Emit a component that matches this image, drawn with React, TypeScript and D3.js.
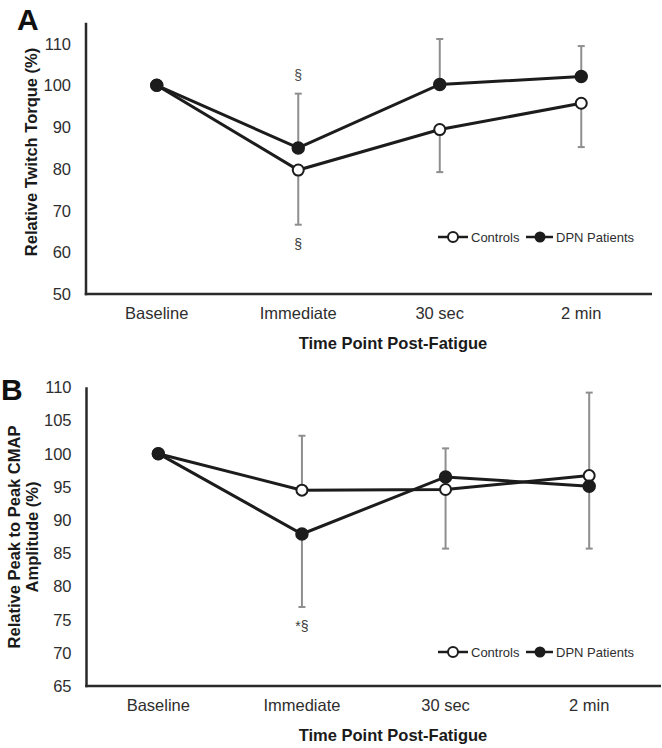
import React from "react";
import * as d3 from "d3";

// ---------- data ----------
const categories = ["Baseline", "Immediate", "30 sec", "2 min"];

// Panel A: Relative twitch torque (%)
const torqueTicks = [50, 60, 70, 80, 90, 100, 110];
const torqueControls = [100, 79.7, 89.4, 95.7];
const torqueDPN = [100, 85.0, 100.2, 102.1];
const torqueControlsErrPlus = [0, 0, 0, 0];
const torqueControlsErrMinus = [0, 13.1, 10.2, 10.5];
const torqueDPNErrPlus = [0, 13.0, 10.9, 7.3];
const torqueDPNErrMinus = [0, 0, 0, 0];
const torqueMarksAbove = ["", "§", "", ""];
const torqueMarksBelow = ["", "§", "", ""];

// Panel B: Relative peak-to-peak CMAP amplitude (%)
const ampTicks = [65, 70, 75, 80, 85, 90, 95, 100, 105, 110];
const ampControls = [100, 94.5, 94.6, 96.7];
const ampDPN = [100, 87.9, 96.5, 95.1];
const ampControlsErrPlus = [0, 8.2, 0, 12.5];
const ampControlsErrMinus = [0, 0, 8.9, 0];
const ampDPNErrPlus = [0, 0, 4.3, 0];
const ampDPNErrMinus = [0, 11.0, 0, 9.4];
const ampMarksBelow = ["", "*§", "", ""];

const seriesNames = ["Controls", "DPN Patients"];

// ---------- styles ----------
const FONT = "'Liberation Sans', Arial, Helvetica, sans-serif";
const INK = "#1c1c1c";
const AXIS = "#2a2a2a";
const TEXT = "#2e2e2e";
const ERR = "#8e8e8e";

type PanelProps = {
  letter: string;
  yTitle: string[];
  ticks: number[];
  domain: [number, number];
  yRange: [number, number];
  xRange: [number, number];
  controls: number[];
  dpn: number[];
  cPlus: number[];
  cMinus: number[];
  dPlus: number[];
  dMinus: number[];
  above?: string[];
  below?: string[];
  aboveGap: number;
  belowGap: number;
  legendY: number;
  letterY: number;
  letterX: number;
  yTitleY: number;
  yTitleX: number;
};

function Panel(p: PanelProps) {
  const x = d3.scalePoint<string>().domain(categories).range(p.xRange).padding(0.5);
  const y = d3.scaleLinear().domain(p.domain).range(p.yRange);
  const [x0, x1] = p.xRange;
  const [yBottom, yTop] = p.yRange;
  const line = d3
    .line<number>()
    .x((_, i) => x(categories[i]) as number)
    .y((v) => y(v));

  const errBars = (vals: number[], plus: number[], minus: number[], key: string) =>
    vals.map((v, i) => {
      const cx = x(categories[i]) as number;
      const out: React.ReactNode[] = [];
      if (plus[i] > 0) {
        const yt = y(v + plus[i]);
        out.push(
          <g key={key + "p" + i}>
            <line x1={cx} x2={cx} y1={y(v)} y2={yt} stroke={ERR} strokeWidth={2} />
            <line x1={cx - 3.5} x2={cx + 3.5} y1={yt} y2={yt} stroke={ERR} strokeWidth={2} />
          </g>
        );
      }
      if (minus[i] > 0) {
        const yb = y(v - minus[i]);
        out.push(
          <g key={key + "m" + i}>
            <line x1={cx} x2={cx} y1={y(v)} y2={yb} stroke={ERR} strokeWidth={2} />
            <line x1={cx - 3.5} x2={cx + 3.5} y1={yb} y2={yb} stroke={ERR} strokeWidth={2} />
          </g>
        );
      }
      return out;
    });

  const midTitle = 393;

  return (
    <g>
      <text x={p.letterX} y={p.letterY} fontFamily={FONT} fontWeight="bold" fontSize={30} fill="#111">
        {p.letter}
      </text>
      {/* y axis title */}
      {p.yTitle.map((t, i) => {
        const n = p.yTitle.length;
        const cx = p.yTitleX + (i - (n - 1) / 2) * 18;
        return (
          <text
            key={t}
            transform={`translate(${cx},${p.yTitleY}) rotate(-90)`}
            textAnchor="middle"
            dominantBaseline="central"
            fontFamily={FONT}
            fontWeight="bold"
            fontSize={16.5}
            fill="#1a1a1a"
          >
            {t}
          </text>
        );
      })}
      {/* tick labels */}
      {p.ticks.map((t) => (
        <text
          key={t}
          x={x0 - 15}
          y={y(t)}
          textAnchor="end"
          dominantBaseline="central"
          fontFamily={FONT}
          fontSize={16.5}
          fill={TEXT}
        >
          {t}
        </text>
      ))}
      {/* category labels */}
      {categories.map((c) => (
        <text
          key={c}
          x={x(c) as number}
          y={yBottom + 25}
          textAnchor="middle"
          fontFamily={FONT}
          fontSize={16.5}
          fill={TEXT}
        >
          {c}
        </text>
      ))}
      <text
        x={midTitle}
        y={yBottom + 55}
        textAnchor="middle"
        fontFamily={FONT}
        fontWeight="bold"
        fontSize={16.5}
        fill="#1a1a1a"
      >
        Time Point Post-Fatigue
      </text>
      {/* axes */}
      <line x1={x0} x2={x0} y1={yTop} y2={yBottom + 1.25} stroke={AXIS} strokeWidth={2.5} />
      <line x1={x0 - 1.25} x2={x1} y1={yBottom} y2={yBottom} stroke={AXIS} strokeWidth={2.5} />
      {/* error bars */}
      {errBars(p.controls, p.cPlus, p.cMinus, "c")}
      {errBars(p.dpn, p.dPlus, p.dMinus, "d")}
      {/* significance marks */}
      {p.above?.map((m, i) =>
        m ? (
          <text
            key={"a" + i}
            x={x(categories[i]) as number}
            y={y(Math.max(p.controls[i] + p.cPlus[i], p.dpn[i] + p.dPlus[i])) - p.aboveGap}
            textAnchor="middle"
            fontFamily={FONT}
            fontSize={14}
            fill="#4a4a4a"
          >
            {m}
          </text>
        ) : null
      )}
      {p.below?.map((m, i) =>
        m ? (
          <text
            key={"b" + i}
            x={x(categories[i]) as number}
            y={y(Math.min(p.controls[i] - p.cMinus[i], p.dpn[i] - p.dMinus[i])) + p.belowGap}
            textAnchor="middle"
            fontFamily={FONT}
            fontSize={14}
            fill="#3a3a3a"
          >
            {m}
          </text>
        ) : null
      )}
      {/* lines */}
      <path d={line(p.controls) || ""} fill="none" stroke={INK} strokeWidth={3} />
      <path d={line(p.dpn) || ""} fill="none" stroke={INK} strokeWidth={3} />
      {/* markers */}
      {p.controls.map((v, i) => (
        <circle key={"cm" + i} cx={x(categories[i]) as number} cy={y(v)} r={5.5} fill="#fff" stroke={INK} strokeWidth={2} />
      ))}
      {p.dpn.map((v, i) => (
        <circle key={"dm" + i} cx={x(categories[i]) as number} cy={y(v)} r={6} fill={INK} stroke={INK} strokeWidth={1.5} />
      ))}
      {/* legend */}
      <g>
        <line x1={438} x2={468} y1={p.legendY} y2={p.legendY} stroke={INK} strokeWidth={2.5} />
        <circle cx={453} cy={p.legendY} r={5} fill="#fff" stroke={INK} strokeWidth={2} />
        <text x={471} y={p.legendY} dominantBaseline="central" fontFamily={FONT} fontSize={13} fill={TEXT}>
          {seriesNames[0]}
        </text>
        <line x1={526} x2={553} y1={p.legendY} y2={p.legendY} stroke={INK} strokeWidth={2.5} />
        <circle cx={540} cy={p.legendY} r={5.5} fill={INK} />
        <text x={556} y={p.legendY} dominantBaseline="central" fontFamily={FONT} fontSize={13} fill={TEXT}>
          {seriesNames[1]}
        </text>
      </g>
    </g>
  );
}

export default function App() {
  return (
    <svg
      width={662}
      height={748}
      viewBox="0 0 662 748"
      style={{ position: "absolute", left: 0, top: 0, background: "#fff" }}
    >
      <rect width={662} height={748} fill="#fff" />
      <Panel
        letter="A"
        yTitle={["Relative Twitch Torque (%)"]}
        ticks={torqueTicks}
        domain={[50, 115]}
        yRange={[294, 22.7]}
        xRange={[86, 652]}
        controls={torqueControls}
        dpn={torqueDPN}
        cPlus={torqueControlsErrPlus}
        cMinus={torqueControlsErrMinus}
        dPlus={torqueDPNErrPlus}
        dMinus={torqueDPNErrMinus}
        above={torqueMarksAbove}
        below={torqueMarksBelow}
        aboveGap={14}
        belowGap={24}
        legendY={237}
        letterX={17}
        letterY={30}
        yTitleY={152}
        yTitleX={31}
      />
      <Panel
        letter="B"
        yTitle={["Relative Peak to Peak CMAP", "Amplitude (%)"]}
        ticks={ampTicks}
        domain={[65, 110]}
        yRange={[686, 387.3]}
        xRange={[86.5, 661]}
        controls={ampControls}
        dpn={ampDPN}
        cPlus={ampControlsErrPlus}
        cMinus={ampControlsErrMinus}
        dPlus={ampDPNErrPlus}
        dMinus={ampDPNErrMinus}
        below={ampMarksBelow}
        aboveGap={14}
        belowGap={24}
        legendY={652}
        letterX={1}
        letterY={400}
        yTitleY={537}
        yTitleX={23}
      />
    </svg>
  );
}
